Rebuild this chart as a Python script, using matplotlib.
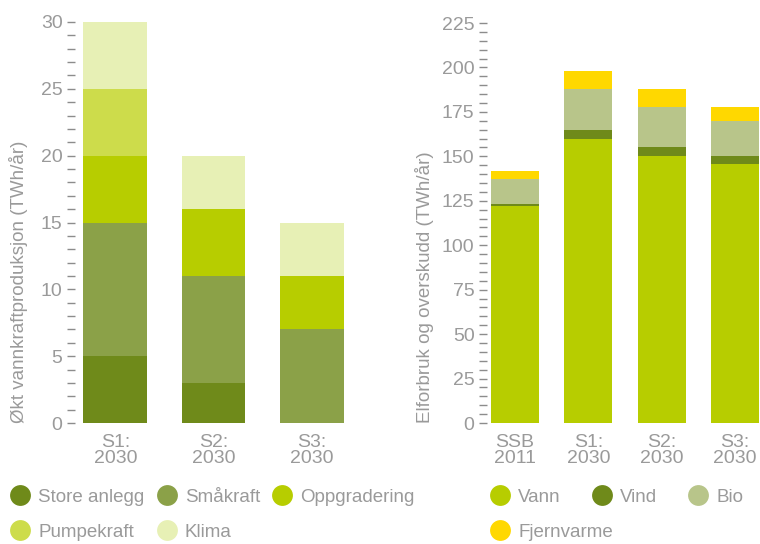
import matplotlib.pyplot as plt
from matplotlib.lines import Line2D
from matplotlib.ticker import MultipleLocator
import numpy as np

plt.rcParams['font.family'] = ['Liberation Sans', 'DejaVu Sans']

# left chart: increased hydropower production (TWh/year)
scen_left = ['S1:\n2030', 'S2:\n2030', 'S3:\n2030']
store_anlegg = [5, 3, 0]
smakraft = [10, 8, 7]
oppgradering = [5, 5, 4]
pumpekraft = [5, 0, 0]
klima = [5, 4, 4]

# right chart: consumption and surplus (TWh/year)
scen_right = ['SSB\n2011', 'S1:\n2030', 'S2:\n2030', 'S3:\n2030']
vann = [122, 160, 150, 145.5]
vind = [1, 5, 5, 4.5]
bio = [14, 23, 23, 20]
fjernvarme = [4.5, 10, 10, 8]

grey = '#9a9a9a'
left_series = [('Store anlegg', store_anlegg, '#6f8a1a'),
               ('Småkraft', smakraft, '#8ba148'),
               ('Oppgradering', oppgradering, '#b7cd00'),
               ('Pumpekraft', pumpekraft, '#cddc4b'),
               ('Klima', klima, '#e7f0b5')]
right_series = [('Vann', vann, '#b7cd00'),
                ('Vind', vind, '#6f8a1a'),
                ('Bio', bio, '#b8c58a'),
                ('Fjernvarme', fjernvarme, '#ffd800')]

W, H = 760, 544
fig = plt.figure(figsize=(7.6, 5.44), dpi=100)
ax1 = fig.add_axes([75 / W, 121 / H, 276 / W, 401 / H])
ax2 = fig.add_axes([487 / W, 121 / H, 273 / W, 400 / H])


def stack(ax, cats, series, width):
    x = np.arange(len(cats))
    bottom = np.zeros(len(cats))
    for name, vals, col in series:
        ax.bar(x, vals, width, bottom=bottom, color=col, linewidth=0)
        bottom += np.array(vals)
    ax.set_xticks(x)
    ax.set_xticklabels(cats, color=grey, fontsize=14, linespacing=0.9)
    for s in ax.spines.values():
        s.set_visible(False)
    ax.tick_params(axis='x', length=0, pad=8)
    ax.tick_params(axis='y', which='both', colors='#8c8c8c', labelcolor=grey,
                   labelsize=14, length=6, width=1, direction='out', pad=3)


stack(ax1, scen_left, left_series, 0.65)
ax1.set_xlim(-0.41, 2.4)
ax1.set_ylim(0, 30)
ax1.yaxis.set_major_locator(MultipleLocator(5))
ax1.yaxis.set_minor_locator(MultipleLocator(1))
ax1.set_ylabel('Økt vannkraftproduksjon (TWh/år)', color=grey, fontsize=13.5,
               labelpad=9, loc='bottom')

stack(ax2, scen_right, right_series, 0.655)
ax2.set_xlim(-0.38, 3.34)
ax2.set_ylim(0, 225)
ax2.yaxis.set_major_locator(MultipleLocator(25))
ax2.yaxis.set_minor_locator(MultipleLocator(5))
ax2.set_ylabel('Elforbruk og overskudd (TWh/år)', color=grey, fontsize=13.5,
               labelpad=6, loc='bottom')


def legend_row(items, x, y, gap):
    handles = [Line2D([], [], marker='o', linestyle='none', markersize=15,
                      markerfacecolor=c, markeredgewidth=0) for _, _, c in items]
    leg = fig.legend(handles, [n for n, _, _ in items], ncol=len(items),
                     loc='center left', bbox_to_anchor=(x / W, 1 - y / H),
                     frameon=False, fontsize=13.5, handlelength=1.1,
                     handletextpad=0.4, columnspacing=gap,
                     borderaxespad=0, borderpad=0)
    for t in leg.get_texts():
        t.set_color(grey)


legend_row(left_series[:3], 10, 497, 0.65)
legend_row(left_series[3:], 10, 532, 1.2)
legend_row(right_series[:3], 490, 497, 1.65)
legend_row(right_series[3:], 490, 532, 1.65)

fig.savefig('out.png', dpi=100)
